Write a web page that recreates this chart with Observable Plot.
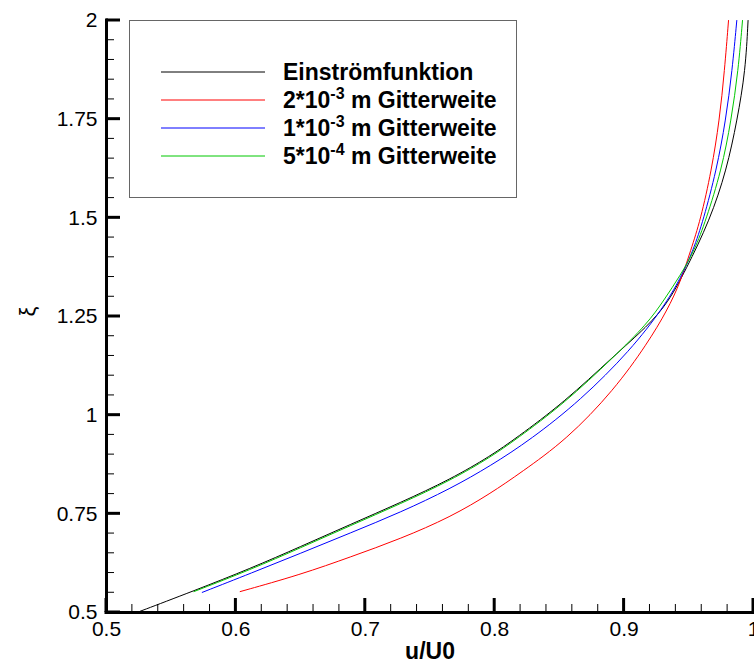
<!DOCTYPE html>
<html><head><meta charset="utf-8">
<script src="https://cdn.jsdelivr.net/npm/d3@7"></script>
<script src="https://cdn.jsdelivr.net/npm/@observablehq/plot@0.6"></script>
<style>
body{margin:0;background:#fff;}
#chart{width:754px;height:664px;}
svg{font-family:"Liberation Sans",Arial,Helvetica,sans-serif;}
</style></head><body><div id="chart"></div>
<script>
// Tick labels
const xTicks = [0.5, 0.6, 0.7, 0.8, 0.9, 1];
const yTicks = [0.5, 0.75, 1, 1.25, 1.5, 1.75, 2];

// Series: Einströmfunktion (black)
const uBlack  = [0.5235, 0.5676, 0.6116, 0.650, 0.6888, 0.7274, 0.766, 0.797, 0.8162, 0.8535, 0.8921, 0.918, 0.934, 0.9475, 0.9663, 0.9792, 0.9874, 0.9938, 0.9958];
const xiBlack = [0.5, 0.555, 0.612, 0.667, 0.7236, 0.7787, 0.8378, 0.897, 0.941, 1.032, 1.150, 1.225, 1.285, 1.367, 1.494, 1.621, 1.748, 1.873, 2.0];
// 2*10^-3 m (red)
const uRed  = [0.6033, 0.650, 0.6888, 0.7274, 0.766, 0.797, 0.820, 0.8556, 0.8921, 0.918, 0.9334, 0.9436, 0.9515, 0.959, 0.9676, 0.9737, 0.9776, 0.9807];
const xiRed = [0.553, 0.596, 0.641, 0.687, 0.742, 0.802, 0.854, 0.938, 1.063, 1.1815, 1.266, 1.3377, 1.418, 1.494, 1.621, 1.748, 1.873, 2.0];
// 1*10^-3 m (blue)
const uBlue  = [0.574, 0.612, 0.650, 0.6888, 0.7274, 0.766, 0.797, 0.8278, 0.8664, 0.905, 0.9307, 0.9436, 0.9535, 0.9612, 0.9714, 0.9786, 0.9835, 0.9871];
const xiBlue = [0.551, 0.600, 0.650, 0.702, 0.754, 0.814, 0.872, 0.938, 1.0377, 1.1645, 1.274, 1.347, 1.418, 1.494, 1.621, 1.748, 1.873, 2.0];
// 5*10^-4 m (green)
const uGreen  = [0.5676, 0.6116, 0.650, 0.6888, 0.7274, 0.766, 0.797, 0.8162, 0.8535, 0.8921, 0.918, 0.9307, 0.9436, 0.9545, 0.9632, 0.9753, 0.9828, 0.9882, 0.9915];
const xiGreen = [0.553, 0.609, 0.664, 0.7206, 0.7757, 0.8348, 0.894, 0.938, 1.029, 1.1475, 1.232, 1.291, 1.355, 1.418, 1.494, 1.621, 1.748, 1.873, 2.0];

// Legend
const legendBase = ["Einströmfunktion", "2*10", "1*10", "5*10"];
const legendSup  = ["", "-3", "-3", "-4"];
const legendRest = ["", " m Gitterweite", " m Gitterweite", " m Gitterweite"];
const colors = ["#000000", "#ff0000", "#0000ff", "#00c800"];

const seriesU = [uBlack, uRed, uBlue, uGreen];
const seriesXi = [xiBlack, xiRed, xiBlue, xiGreen];
const toRows = (us, xs) => us.map((u, i) => ({u, xi: xs[i]}));

const xDomain = [0.5, 1], yDomain = [0.5, 2];
const xMinor = d3.range(0, 26).map(i => xDomain[0] + i * 0.02);
const yMinor = d3.range(0, 31).map(i => yDomain[0] + i * 0.05);
const fmt = d => String(d);

const W = 754, H = 664, mL = 106, mR = 1, mT = 20, mB = 52;
const majorLen = 14, minorLen = 8;

const chart = Plot.plot({
  width: W, height: H,
  marginLeft: mL, marginRight: mR, marginTop: mT, marginBottom: mB,
  x: {domain: xDomain, label: null},
  y: {domain: yDomain, label: null},
  style: {fontFamily: '"Liberation Sans", Arial, sans-serif', fontSize: "21px", color: "#000", background: "#fff"},
  marks: [
    ...[0, 1, 2, 3].map(k => Plot.line(toRows(seriesU[k], seriesXi[k]), {x: "u", y: "xi", stroke: colors[k], strokeWidth: 1, curve: "basis"})),
    // tick labels
    Plot.axisX(xTicks, {anchor: "bottom", tickSize: 0, tickPadding: 9, tickFormat: fmt, label: null, fontSize: 21}),
    Plot.axisY(yTicks, {anchor: "left", tickSize: 0, tickPadding: 9, tickFormat: fmt, label: null, fontSize: 21}),
    // axis titles
    Plot.text(["ξ"], {text: d => d, frameAnchor: "left", dx: -79, rotate: -90, fontSize: 22}),
    Plot.text(["u/U0"], {text: d => d, frameAnchor: "bottom", dy: 39, fontSize: 23, fontWeight: "bold", lineAnchor: "middle"}),
    // axis lines
    Plot.ruleX([xDomain[0]], {strokeWidth: 3, strokeLinecap: "square"}),
    Plot.ruleY([yDomain[0]], {strokeWidth: 3, strokeLinecap: "square"})
  ]
});
document.getElementById("chart").appendChild(chart);

const svg = d3.select(chart);

// Inward-pointing major and minor ticks, positioned with the plot's own scales
const sx = chart.scale("x"), sy = chart.scale("y");
const y0 = sy.apply(yDomain[0]), x0 = sx.apply(xDomain[0]);
const tg = svg.append("g").attr("class", "inward-ticks").attr("stroke", "#000").attr("fill", "none");
xMinor.forEach(v => tg.append("line").attr("x1", sx.apply(v)).attr("x2", sx.apply(v)).attr("y1", y0).attr("y2", y0 - minorLen).attr("stroke-width", 1));
yMinor.forEach(v => tg.append("line").attr("y1", sy.apply(v)).attr("y2", sy.apply(v)).attr("x1", x0).attr("x2", x0 + minorLen).attr("stroke-width", 1));
xTicks.forEach(v => tg.append("line").attr("x1", sx.apply(v)).attr("x2", sx.apply(v)).attr("y1", y0).attr("y2", y0 - majorLen).attr("stroke-width", 3));
yTicks.forEach(v => tg.append("line").attr("y1", sy.apply(v)).attr("y2", sy.apply(v)).attr("x1", x0).attr("x2", x0 + majorLen).attr("stroke-width", 3));

// Legend box drawn inside the plot area
const lg = svg.append("g").attr("class", "legend").attr("text-anchor", "start");
lg.append("rect").attr("x", 129.5).attr("y", 20.5).attr("width", 387).attr("height", 177)
  .attr("fill", "#fff").attr("stroke", "#666").attr("stroke-width", 1);
legendBase.forEach((b, i) => {
  const y = 72 + i * 28;
  lg.append("line").attr("x1", 161).attr("x2", 265).attr("y1", y).attr("y2", y)
    .attr("stroke", colors[i]).attr("stroke-width", 1);
  const t = lg.append("text").attr("x", 283).attr("y", y + 7.5).attr("text-anchor", "start")
    .attr("font-size", 23).attr("font-weight", "bold").attr("fill", "#000");
  t.append("tspan").text(b);
  if (legendSup[i]) {
    t.append("tspan").attr("dy", -9).attr("font-size", 16).text(legendSup[i]);
    t.append("tspan").attr("dy", 9).text(legendRest[i]);
  }
});
</script>
</body></html>
